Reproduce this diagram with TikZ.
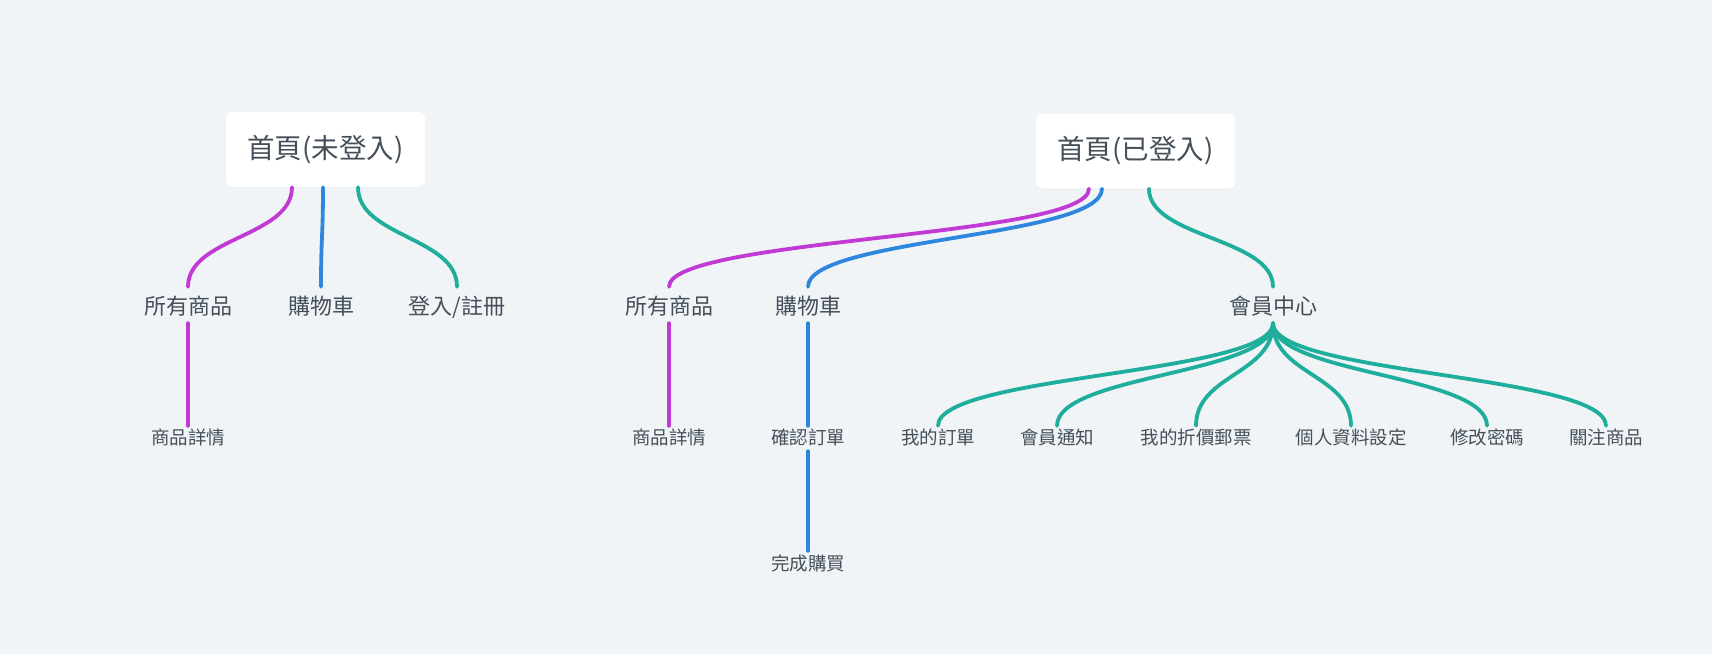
\documentclass[tikz,border=0pt]{standalone}
\usepackage{fontspec}
\newfontfamily\cjk{Noto Sans CJK TC}
\usetikzlibrary{calc,shadows}
\definecolor{bgc}{HTML}{F0F4F7}
\definecolor{cM}{HTML}{C03AD3}
\definecolor{cB}{HTML}{2E87DD}
\definecolor{cG}{HTML}{1FAE9C}
\definecolor{txt}{HTML}{454F59}
\tikzset{
  rootbox/.style={fill=white, rounded corners=6pt, minimum width=199pt, minimum height=75pt,
    inner sep=0pt, font=\cjk\fontsize{27.5}{32}\selectfont, text=txt,
    drop shadow={opacity=0.06, shadow xshift=0pt, shadow yshift=-1pt}},
  lvA/.style={inner sep=0pt, font=\cjk\fontsize{22}{26}\selectfont, text=txt,
    text height=19.4pt, text depth=2.6pt},
  lvB/.style={inner sep=0pt, font=\cjk\fontsize{18.5}{22}\selectfont, text=txt,
    text height=16.3pt, text depth=2.2pt},
  link/.style={line width=3.8pt, line cap=round},
}
\newcommand\vlink[3]{%
  \coordinate (tmpS) at (#2);
  \coordinate (tmpE) at (#3);
  \coordinate (tmpM) at ($(tmpS)!0.5!(tmpE)$);
  \draw[link,#1] (tmpS) .. controls (tmpS |- tmpM) and (tmpE |- tmpM) .. (tmpE);}
\begin{document}
\begin{tikzpicture}[x=1pt,y=-1pt]
\fill[bgc] (0,0) rectangle (1712,654);
\useasboundingbox (0,0) rectangle (1712,654);

% roots
\node[rootbox] (r1) at (325.5,149.5) {首頁(未登入)};
\node[rootbox] (r2) at (1135.5,151) {首頁(已登入)};

% left tree
\node[lvA] (a1) at (188,306) {所有商品};
\node[lvA] (a2) at (321,306) {購物車};
\node[lvA] (a3) at (457,306) {登入/註冊};
\node[lvB] (a4) at (188,437) {商品詳情};

% right tree
\node[lvA] (b1) at (669,306) {所有商品};
\node[lvA] (b2) at (808,306) {購物車};
\node[lvA] (b3) at (1273,306) {會員中心};
\node[lvB] (c1) at (669,437) {商品詳情};
\node[lvB] (c2) at (808,437) {確認訂單};
\node[lvB] (c3) at (808,563) {完成購買};
\node[lvB] (m1) at (938,437) {我的訂單};
\node[lvB] (m2) at (1057,437) {會員通知};
\node[lvB] (m3) at (1196,437) {我的折價郵票};
\node[lvB] (m4) at (1351,437) {個人資料設定};
\node[lvB] (m5) at (1487,437) {修改密碼};
\node[lvB] (m6) at (1606,437) {關注商品};

% left links
\vlink{cM}{[xshift=-33.5pt]r1.south}{[yshift=8pt]a1.north}
\vlink{cB}{[xshift=-2.5pt]r1.south}{[yshift=8pt]a2.north}
\vlink{cG}{[xshift=32.5pt]r1.south}{[yshift=8pt]a3.north}
\draw[link,cM] ([yshift=-6pt]a1.south) -- ([yshift=1.75pt]a4.north);

% right links
\vlink{cM}{[xshift=-46.5pt]r2.south}{[yshift=8pt]b1.north}
\vlink{cB}{[xshift=-33.5pt]r2.south}{[yshift=8pt]b2.north}
\vlink{cG}{[xshift=13.5pt]r2.south}{[yshift=8pt]b3.north}
\draw[link,cM] ([yshift=-6pt]b1.south) -- ([yshift=1.75pt]c1.north);
\draw[link,cB] ([yshift=-6pt]b2.south) -- ([yshift=1.75pt]c2.north);
\draw[link,cB] ([yshift=-4.75pt]c2.south) -- ([yshift=2.75pt]c3.north);
\foreach \m in {m1,m2,m3,m4,m5,m6}{
  \vlink{cG}{[yshift=-6pt]b3.south}{[yshift=1.75pt]\m.north}
}
\end{tikzpicture}
\end{document}
